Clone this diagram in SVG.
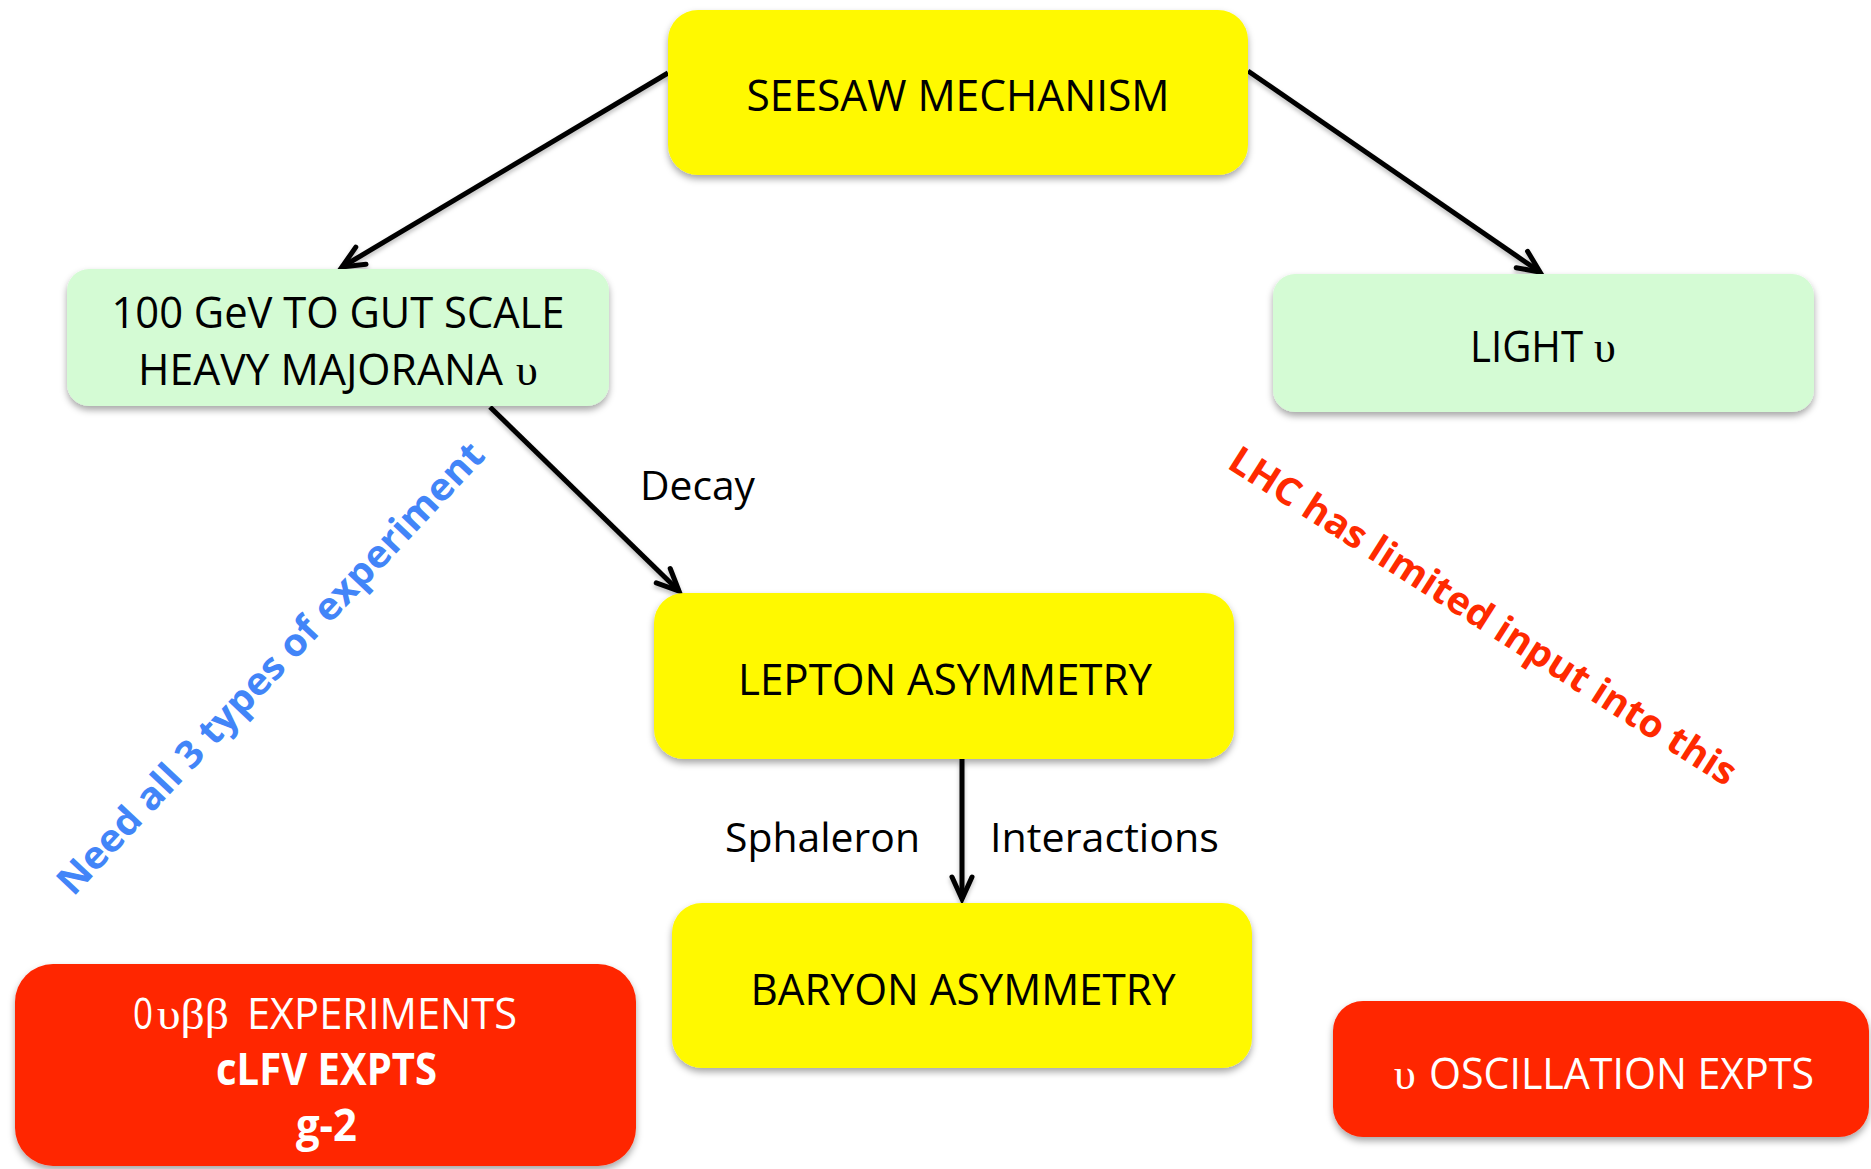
<svg xmlns="http://www.w3.org/2000/svg" width="1871" height="1169" viewBox="0 0 1871 1169">
<defs>
<filter id="sh" x="-10%" y="-10%" width="120%" height="130%">
<feDropShadow dx="0" dy="4" stdDeviation="3.5" flood-color="#000" flood-opacity="0.35"/>
</filter>
<filter id="lsh" x="-20%" y="-20%" width="140%" height="140%">
<feDropShadow dx="0" dy="3" stdDeviation="2" flood-color="#000" flood-opacity="0.25"/>
</filter>
<marker id="arr" markerUnits="userSpaceOnUse" markerWidth="40" markerHeight="34" viewBox="-32 -17 40 34" refX="0" refY="0" orient="auto" overflow="visible">
<path d="M-22,-10 L0,0 L-22,10" fill="none" stroke="#000" stroke-width="5" stroke-linecap="round" stroke-linejoin="miter"/>
</marker>
</defs>
<style>
.y{fill:#FFF900}
.g{fill:#D4FBD4}
.r{fill:#FF2600}
.t{font-family:"Open Sans","Liberation Sans",sans-serif;font-size:44px;fill:#000;text-anchor:middle}
.st{text-anchor:start}
.s{font-family:"Liberation Serif","DejaVu Serif",serif;font-size:44px;fill:#000}
.w{fill:#fff}
.b{font-weight:bold}
.lbl{font-family:"Open Sans","Liberation Sans",sans-serif;font-size:40px;fill:#000}
.c{fill:none;stroke:#000;stroke-width:5;marker-end:url(#arr)}
.rot{font-family:"Open Sans","Liberation Sans",sans-serif;font-size:38px;font-weight:bold;text-anchor:middle}
</style>
<rect width="1871" height="1169" fill="#fff"/>
<g id="connectors" filter="url(#lsh)">
<line class="c" x1="668" y1="73" x2="342" y2="267"/>
<line class="c" x1="1248" y1="71" x2="1540" y2="272"/>
<line class="c" x1="490" y1="407" x2="679" y2="591"/>
<line class="c" x1="962" y1="759" x2="962" y2="899"/>
</g>
<g id="seesaw">
<rect class="y" x="668" y="10" width="580" height="165" rx="30" filter="url(#sh)"/>
<text class="t" x="958" y="111" textLength="423" lengthAdjust="spacingAndGlyphs">SEESAW MECHANISM</text>
</g>
<g id="heavy">
<rect class="g" x="67" y="269" width="542" height="137" rx="22" filter="url(#sh)"/>
<text class="t" x="338" y="328" textLength="453" lengthAdjust="spacingAndGlyphs">100 GeV TO GUT SCALE</text>
<text class="t st" x="138" y="385" textLength="365" lengthAdjust="spacingAndGlyphs">HEAVY MAJORANA</text>
<text class="s" x="516" y="385">υ</text>
</g>
<g id="light">
<rect class="g" x="1273" y="274" width="541" height="138" rx="22" filter="url(#sh)"/>
<text class="t st" x="1470" y="362" textLength="113" lengthAdjust="spacingAndGlyphs">LIGHT</text>
<text class="s" x="1594" y="362">υ</text>
</g>
<g id="lepton">
<rect class="y" x="654" y="593" width="580" height="166" rx="30" filter="url(#sh)"/>
<text class="t" x="945" y="695" textLength="414" lengthAdjust="spacingAndGlyphs">LEPTON ASYMMETRY</text>
</g>
<g id="baryon">
<rect class="y" x="672" y="903" width="580" height="165" rx="30" filter="url(#sh)"/>
<text class="t" x="963" y="1005" textLength="425" lengthAdjust="spacingAndGlyphs">BARYON ASYMMETRY</text>
</g>
<g id="expts">
<rect class="r" x="15" y="964" width="621" height="202" rx="38" filter="url(#sh)"/>
<text class="t w st" x="133" y="1029" font-size="41" textLength="20" lengthAdjust="spacingAndGlyphs">0</text>
<text class="s w" x="157" y="1029" font-size="41" textLength="72" lengthAdjust="spacingAndGlyphs">υββ</text>
<text class="t w st" x="247" y="1029" font-size="41" textLength="270" lengthAdjust="spacingAndGlyphs">EXPERIMENTS</text>
<text class="t w b" x="326.5" y="1085" font-size="41" textLength="221" lengthAdjust="spacingAndGlyphs">cLFV EXPTS</text>
<text class="t w b" x="326.5" y="1141" font-size="41" textLength="61" lengthAdjust="spacingAndGlyphs">g-2</text>
</g>
<g id="oscillation">
<rect class="r" x="1333" y="1001" width="536" height="136" rx="30" filter="url(#sh)"/>
<text class="s w" x="1394" y="1089">υ</text>
<text class="t w st" x="1429" y="1089" textLength="385" lengthAdjust="spacingAndGlyphs">OSCILLATION EXPTS</text>
</g>
<g id="labels">
<text class="lbl" x="640" y="500" textLength="115" lengthAdjust="spacingAndGlyphs">Decay</text>
<text class="lbl" x="725" y="852" textLength="195" lengthAdjust="spacingAndGlyphs">Sphaleron</text>
<text class="lbl" x="990" y="852" textLength="229" lengthAdjust="spacingAndGlyphs">Interactions</text>
<text class="rot" fill="#4285F8" transform="translate(280,677) rotate(-46.8)" textLength="604" lengthAdjust="spacingAndGlyphs">Need all 3 types of experiment</text>
<text class="rot" fill="#FF2A00" transform="translate(1476,627) rotate(32.6)" textLength="594" lengthAdjust="spacingAndGlyphs">LHC has limited input into this</text>
</g>
</svg>
